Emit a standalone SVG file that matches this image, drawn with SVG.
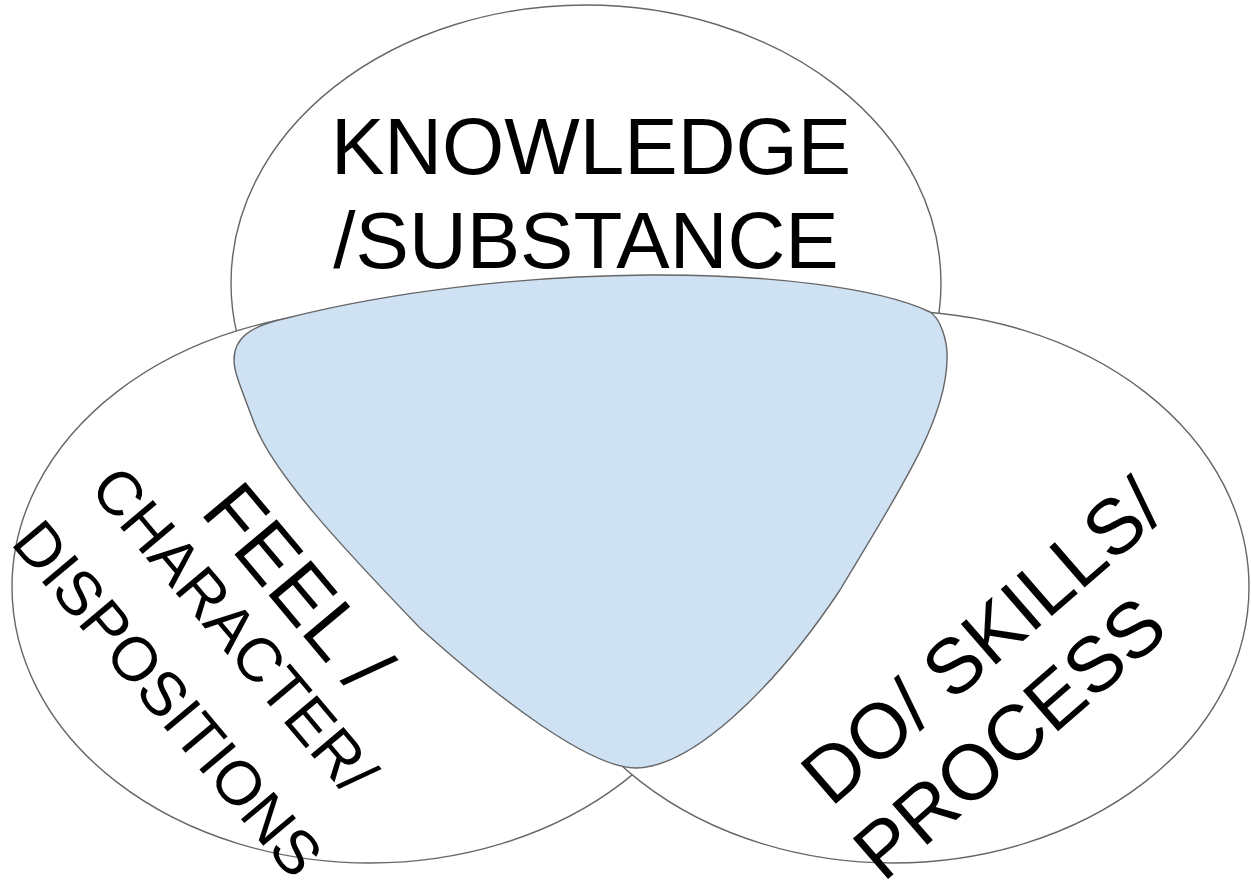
<svg xmlns="http://www.w3.org/2000/svg" width="1251" height="881" viewBox="0 0 1251 881">
<style>
.circ{fill:#ffffff;stroke:#666666;stroke-width:1.4}
.core{fill:#cfe2f3;stroke:#666666;stroke-width:1.4}
.lbl{font-family:"Liberation Sans",Arial,sans-serif;fill:#000000;text-anchor:middle}
.big{font-size:80px}
.mid{font-size:78px}
.small{font-size:62px}
.start{text-anchor:start}
</style>
<rect width="1251" height="881" fill="#ffffff"/>
<g id="knowledge">
<ellipse class="circ" cx="586" cy="283" rx="355" ry="278"/>
</g>
<g id="feel">
<ellipse class="circ" cx="370" cy="587" rx="358" ry="276"/>
</g>
<g id="do">
<ellipse class="circ" cx="893" cy="587" rx="356" ry="276"/>
</g>
<g id="center">
<path class="core" d="M 287,318 C 390,292 520,276 647,275 C 770,274 880,288 930,312 C 940,318 948,340 947,360 C 946,420 900,490 840,590 C 770,695 690,767 636,768 C 590,768 500,700 420,628 C 340,545 270,470 253,420 C 240,385 234,372 234,360 C 234,338 250,326 287,318 Z"/>
</g>
<g id="connectors"></g>
<g id="labels">
<text class="lbl big" x="591" y="174">KNOWLEDGE</text>
<text class="lbl big" x="586" y="268">/SUBSTANCE</text>
<g transform="translate(216.5,642) rotate(50)">
<text class="lbl big" x="10" y="-70">FEEL /</text>
<text class="lbl small" x="2" y="0">CHARACTER/</text>
<text class="lbl small" x="12" y="95">DISPOSITIONS</text>
</g>
<g transform="translate(831,808) rotate(-41)">
<text class="lbl mid start" x="0" y="0">DO/ SKILLS/</text>
<text class="lbl mid start" x="-10" y="91">PROCESS</text>
</g>
</g>
</svg>
